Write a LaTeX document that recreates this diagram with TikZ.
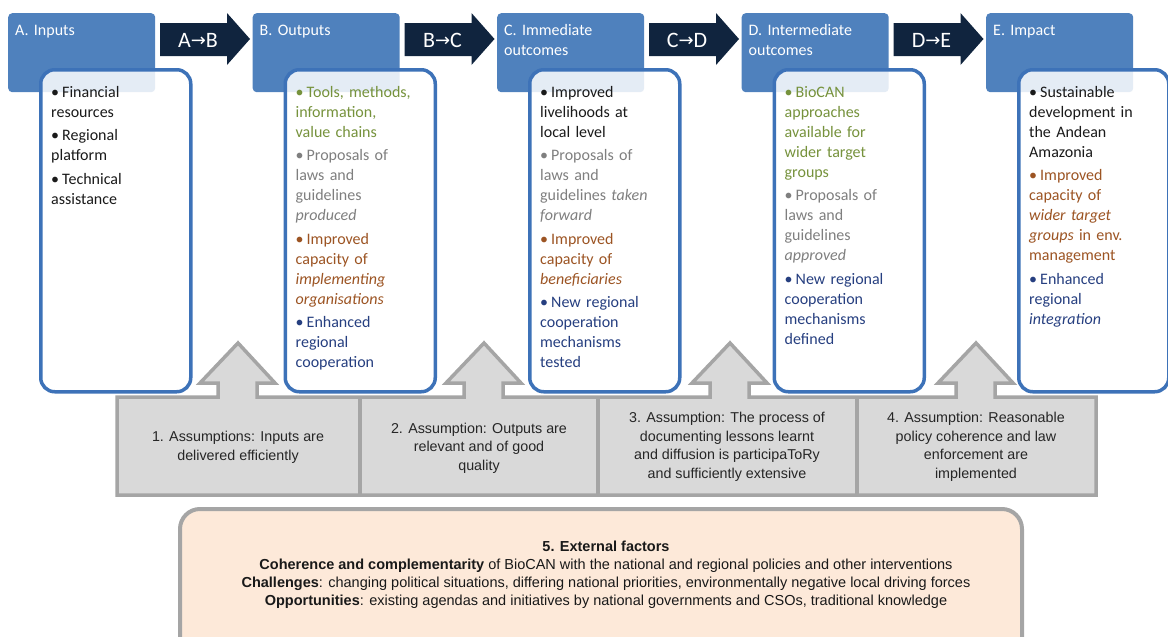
\documentclass[tikz,border=0pt]{standalone}
\usepackage{fontspec}
\setmainfont{Carlito}
\newfontfamily\arialfont{Liberation Sans}
\newfontfamily\symfont{DejaVu Sans}
\usetikzlibrary{calc}

\definecolor{hdrblue}{HTML}{4F81BD}
\definecolor{panelblue}{HTML}{3D72B8}
\definecolor{navy}{HTML}{10243E}
\definecolor{txtgreen}{HTML}{76923C}
\definecolor{txtgray}{HTML}{7F7F7F}
\definecolor{txtbrown}{HTML}{9C5423}
\definecolor{txtblue}{HTML}{263F80}
\definecolor{txtblack}{HTML}{1A1A1A}
\definecolor{barfill}{HTML}{D9D9D9}
\definecolor{barline}{HTML}{A5A5A5}
\definecolor{peach}{HTML}{FDE9D9}

% one bullet item: colour, lines
\newcommand\bitem[2]{\hangindent=11pt\hangafter=1\noindent{\color{#1}\makebox[11pt][l]{\textbullet}#2\par}\vspace{3.5pt}}
% arrow glyph for the stage transitions
\newcommand\tto{{\symfont\fontsize{18}{18}\selectfont\raisebox{0.5pt}{→}}}

\tikzset{
  header/.style={fill=hdrblue, rounded corners=4pt, minimum width=147pt, minimum height=79pt,
    anchor=north west, inner sep=0pt},
  panel/.style={draw=panelblue, line width=3.5pt, fill=white, fill opacity=0.85,
    rounded corners=14pt, minimum width=150pt, minimum height=322pt, anchor=north west, inner sep=0pt},
  hdrtext/.style={anchor=base west, text width=140pt, align=left, text=white,
    font=\fontsize{16}{20.5}\selectfont, inner sep=0pt},
  listtext/.style={anchor=base west, text width=140pt, align=left,
    font=\fontsize{16}{20}\selectfont, inner sep=0pt},
  stagearrow/.style={fill=navy},
  arrowtext/.style={text=white, font=\fontsize{22}{22}\selectfont, inner sep=0pt},
  bar/.style={fill=barfill, draw=barline, line width=3.5pt, line join=miter},
  bartext/.style={align=center, text=black!85, font=\arialfont\fontsize{14.3}{18.5}\selectfont, inner sep=0pt},
  extbox/.style={fill=peach, draw=barline, line width=4pt, rounded corners=20pt,
    minimum width=842pt, minimum height=160pt, anchor=north west, inner sep=0pt},
  exttext/.style={align=center, text=black!90, font=\arialfont\fontsize{14.5}{18}\selectfont, inner sep=0pt},
  uparr/.style={insert path={-- (#1-20,397) -- (#1-20,383) -- (#1-38,383) -- (#1,343)
    -- (#1+37,383) -- (#1+19,383) -- (#1+19,397)}},
  stagearr/.style={insert path={(#1,23) -- (#1+67,23) -- (#1+67,13) -- (#1+90,39)
    -- (#1+67,65) -- (#1+67,56) -- (#1,56) -- cycle}},
}

\begin{document}
\begin{tikzpicture}[x=1pt,y=-1pt]
\useasboundingbox (0,0) rectangle (1168,637);
\clip (0,0) rectangle (1168,637);

% stage headers
\node[header] (hA) at (8,13) {};
\node[header] (hB) at (252.5,13) {};
\node[header] (hC) at (497,13) {};
\node[header] (hD) at (741.5,13) {};
\node[header] (hE) at (986,13) {};

% content panels, partly over the headers
\node[panel] (pA) at (39,68) {};
\node[panel] (pB) at (283.5,68) {};
\node[panel] (pC) at (528,68) {};
\node[panel] (pD) at (772.5,68) {};
\node[panel] (pE) at (1017,68) {};

% header titles
\node[hdrtext] (tA) at (15,35) {A. Inputs};
\node[hdrtext] (tB) at (259.5,35) {B. Outputs};
\node[hdrtext] (tC) at (504,35) {C. Immediate\\outcomes};
\node[hdrtext] (tD) at (748.5,35) {D. Intermediate\\outcomes};
\node[hdrtext] (tE) at (993,35) {E. Impact};

% transition arrows between stages
\fill[stagearrow] [stagearr=160];
\fill[stagearrow] [stagearr=404.5];
\fill[stagearrow] [stagearr=649];
\fill[stagearrow] [stagearr=893.5];
\node[arrowtext] (ab) at (198,40) {A\tto B};
\node[arrowtext] (bc) at (442.5,40) {B\tto C};
\node[arrowtext] (cd) at (687,40) {C\tto D};
\node[arrowtext] (de) at (931.5,40) {D\tto E};

% bullet lists
\node[listtext] (lA) at (51,97) {%
  \bitem{txtblack}{Financial\\resources}%
  \bitem{txtblack}{Regional\\platform}%
  \bitem{txtblack}{Technical\\assistance}};
\node[listtext] (lB) at (295.5,97) {%
  \bitem{txtgreen}{Tools, methods,\\information,\\value chains}%
  \bitem{txtgray}{Proposals of\\laws and\\guidelines\\\textit{produced}}%
  \bitem{txtbrown}{Improved\\capacity of\\\textit{implementing}\\\textit{organisations}}%
  \bitem{txtblue}{Enhanced\\regional\\cooperation}};
\node[listtext] (lC) at (540,97) {%
  \bitem{txtblack}{Improved\\livelihoods at\\local level}%
  \bitem{txtgray}{Proposals of\\laws and\\guidelines \textit{taken}\\\textit{forward}}%
  \bitem{txtbrown}{Improved\\capacity of\\\textit{beneficiaries}}%
  \bitem{txtblue}{New regional\\cooperation\\mechanisms\\tested}};
\node[listtext] (lD) at (784.5,97) {%
  \bitem{txtgreen}{BioCAN\\approaches\\available for\\wider target\\groups}%
  \bitem{txtgray}{Proposals of\\laws and\\guidelines\\\textit{approved}}%
  \bitem{txtblue}{New regional\\cooperation\\mechanisms\\defined}};
\node[listtext] (lE) at (1029,97) {%
  \bitem{txtblack}{Sustainable\\development in\\the Andean\\Amazonia}%
  \bitem{txtbrown}{Improved\\capacity of\\\textit{wider target}\\\textit{groups} in env.\\management}%
  \bitem{txtblue}{Enhanced\\regional\\\textit{integration}}};

% assumptions bar with its upward arrows
\draw[bar] (117,397) [uparr=238] [uparr=484] [uparr=730] [uparr=976]
  -- (1096,397) -- (1096,495) -- (117,495) -- cycle;
\draw[barline, line width=3.5pt] (360,397) -- (360,495);
\draw[barline, line width=3.5pt] (598,397) -- (598,495);
\draw[barline, line width=3.5pt] (857,397) -- (857,495);

\node[bartext] (as1) at (238,447.5) {1. Assumptions: Inputs are\\delivered efficiently};
\node[bartext] (as2) at (479,448) {2. Assumption: Outputs are\\relevant and of good\\quality};
\node[bartext] (as3) at (727,447) {3. Assumption: The process of\\documenting lessons learnt\\and diffusion is participaToRy\\and sufficiently extensive};
\node[bartext] (as4) at (976,447) {4. Assumption: Reasonable\\policy coherence and law\\enforcement are\\implemented};

% external factors
\node[extbox] (ext) at (178,507) {};
\node[exttext] (extt) at (606,575) {\textbf{5. External factors}\\
  \textbf{Coherence and complementarity} of BioCAN with the national and regional policies and other interventions\\
  \textbf{Challenges}: changing political situations, differing national priorities, environmentally negative local driving forces\\
  \textbf{Opportunities}: existing agendas and initiatives by national governments and CSOs, traditional knowledge};
\end{tikzpicture}
\end{document}
